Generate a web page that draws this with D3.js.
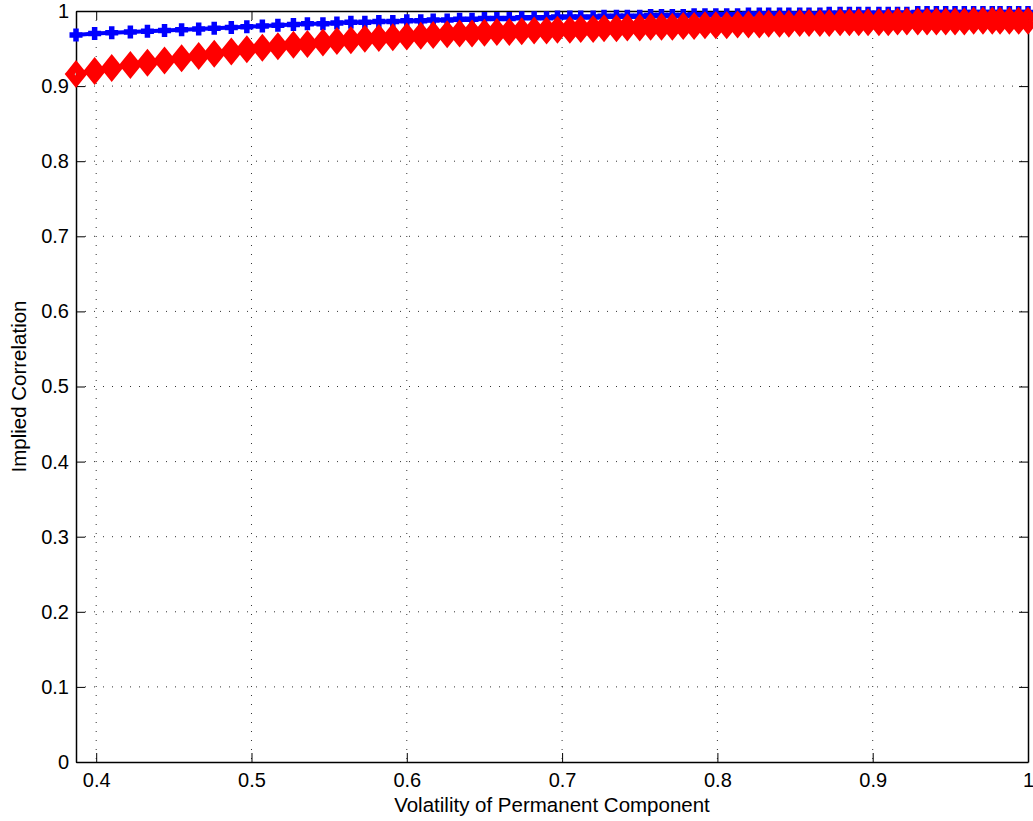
<!DOCTYPE html>
<html>
<head>
<meta charset="utf-8">
<script src="https://cdn.jsdelivr.net/npm/d3@7"></script>
<style>
  body { margin: 0; background: #fff; }
  text { font-family: "Liberation Sans", Arial, sans-serif; fill: #000; }
</style>
</head>
<body>
<div id="chart"></div>
<script>
const MARGIN = { LEFT: 76, RIGHT: 5, TOP: 11, BOTTOM: 59 };
const WIDTH = 1033 - MARGIN.LEFT - MARGIN.RIGHT;
const HEIGHT = 821 - MARGIN.TOP - MARGIN.BOTTOM;

// volatility of permanent component (x)
const volatility = [
  0.387, 0.399, 0.410, 0.422, 0.433, 0.444, 0.455, 0.466, 0.476, 0.487,
  0.497, 0.507, 0.517, 0.527, 0.536, 0.546, 0.555, 0.564, 0.573, 0.582,
  0.591, 0.600, 0.609, 0.617, 0.626, 0.634, 0.642, 0.650, 0.658, 0.666,
  0.674, 0.682, 0.690, 0.697, 0.705, 0.712, 0.720, 0.727, 0.735, 0.742,
  0.750, 0.757, 0.764, 0.771, 0.778, 0.785, 0.792, 0.799, 0.806, 0.813,
  0.820, 0.827, 0.833, 0.840, 0.846, 0.853, 0.859, 0.866, 0.872, 0.879,
  0.885, 0.891, 0.897, 0.904, 0.910, 0.916, 0.922, 0.929, 0.935, 0.941,
  0.947, 0.953, 0.959, 0.965, 0.971, 0.977, 0.982, 0.988, 0.994, 1.000
];

// blue series (plus markers)
const corrBlue = [
  0.968, 0.970, 0.971, 0.972, 0.973, 0.974, 0.975, 0.976, 0.977, 0.978,
  0.979, 0.980, 0.981, 0.982, 0.983, 0.983, 0.984, 0.985, 0.985, 0.986,
  0.986, 0.987, 0.987, 0.988, 0.988, 0.989, 0.989, 0.990, 0.990, 0.990,
  0.991, 0.991, 0.991, 0.992, 0.992, 0.992, 0.992, 0.993, 0.993, 0.993,
  0.993, 0.994, 0.994, 0.994, 0.994, 0.995, 0.995, 0.995, 0.995, 0.995,
  0.996, 0.996, 0.996, 0.996, 0.996, 0.996, 0.996, 0.996, 0.997, 0.997,
  0.997, 0.997, 0.997, 0.997, 0.997, 0.997, 0.997, 0.998, 0.998, 0.998,
  0.998, 0.998, 0.998, 0.998, 0.998, 0.998, 0.998, 0.998, 0.998, 0.998
];

// red series (diamond markers)
const corrRed = [
  0.916, 0.920, 0.924, 0.928, 0.931, 0.934, 0.937, 0.940, 0.943, 0.946,
  0.949, 0.951, 0.953, 0.955, 0.956, 0.958, 0.960, 0.961, 0.963, 0.964,
  0.965, 0.966, 0.967, 0.968, 0.969, 0.970, 0.970, 0.971, 0.972, 0.972,
  0.973, 0.974, 0.974, 0.975, 0.975, 0.976, 0.976, 0.977, 0.977, 0.978,
  0.978, 0.979, 0.979, 0.979, 0.980, 0.980, 0.981, 0.981, 0.981, 0.982,
  0.982, 0.982, 0.983, 0.983, 0.983, 0.984, 0.984, 0.984, 0.984, 0.985,
  0.985, 0.985, 0.985, 0.985, 0.985, 0.986, 0.986, 0.986, 0.986, 0.986,
  0.986, 0.986, 0.986, 0.987, 0.987, 0.987, 0.987, 0.987, 0.987, 0.987
];

const xTicks = [0.4, 0.5, 0.6, 0.7, 0.8, 0.9, 1];
const yTicks = [0, 0.1, 0.2, 0.3, 0.4, 0.5, 0.6, 0.7, 0.8, 0.9, 1];

const svg = d3
  .select("#chart")
  .append("svg")
  .attr("width", 1033)
  .attr("height", 821);

const g = svg
  .append("g")
  .attr("transform", `translate(${MARGIN.LEFT}, ${MARGIN.TOP})`);

const x = d3.scaleLinear().domain([volatility[0], 1]).range([0, WIDTH]);
const y = d3.scaleLinear().domain([0, 1]).range([HEIGHT, 0]);

const fmt = (d) => (d === 0 || d === 1 ? String(d) : d3.format(".1f")(d));

// dotted grid
g.append("g")
  .selectAll("line")
  .data(xTicks.filter((d) => d < 1))
  .enter()
  .append("line")
  .attr("x1", (d) => x(d))
  .attr("x2", (d) => x(d))
  .attr("y1", 0)
  .attr("y2", HEIGHT)
  .attr("stroke", "#333")
  .attr("stroke-width", 1)
  .attr("stroke-dasharray", "1,8");

g.append("g")
  .selectAll("line")
  .data(yTicks.filter((d) => d > 0 && d < 1))
  .enter()
  .append("line")
  .attr("x1", 0)
  .attr("x2", WIDTH)
  .attr("y1", (d) => y(d))
  .attr("y2", (d) => y(d))
  .attr("stroke", "#333")
  .attr("stroke-width", 1)
  .attr("stroke-dasharray", "1,8");

// axes (ticks pointing inward, box on)
const xAxisCall = d3.axisBottom(x).tickValues(xTicks).tickFormat(fmt)
  .tickSizeInner(-9).tickSizeOuter(0).tickPadding(11);
const xAxisGroup = g.append("g")
  .attr("transform", `translate(0, ${HEIGHT})`)
  .call(xAxisCall);

const yAxisCall = d3.axisLeft(y).tickValues(yTicks).tickFormat(fmt)
  .tickSizeInner(-9).tickSizeOuter(0).tickPadding(7);
const yAxisGroup = g.append("g").call(yAxisCall);

g.append("g")
  .call(d3.axisTop(x).tickValues(xTicks).tickFormat("").tickSizeInner(-9).tickSizeOuter(0));
g.append("g")
  .attr("transform", `translate(${WIDTH}, 0)`)
  .call(d3.axisRight(y).tickValues(yTicks).tickFormat("").tickSizeInner(-9).tickSizeOuter(0));

svg.selectAll(".domain").attr("stroke", "#000").attr("stroke-width", 1.5);
svg.selectAll(".tick line").attr("stroke", "#000");
xAxisGroup.selectAll("text").attr("font-size", "20px").attr("font-family", "Liberation Sans, Arial, sans-serif");
yAxisGroup.selectAll("text").attr("font-size", "20px").attr("font-family", "Liberation Sans, Arial, sans-serif");

// X label
g.append("text")
  .attr("x", WIDTH / 2)
  .attr("y", HEIGHT + 50)
  .attr("font-size", "20.5px")
  .attr("text-anchor", "middle")
  .text("Volatility of Permanent Component");

// Y label
g.append("text")
  .attr("x", -(HEIGHT / 2))
  .attr("y", -50)
  .attr("font-size", "20.5px")
  .attr("text-anchor", "middle")
  .attr("transform", "rotate(-90)")
  .text("Implied Correlation");

const blueData = volatility.map((v, i) => ({ x: v, y: corrBlue[i] }));
const redData = volatility.map((v, i) => ({ x: v, y: corrRed[i] }));

const line = d3.line().x((d) => x(d.x)).y((d) => y(d.y));

// blue series
g.append("path")
  .datum(blueData)
  .attr("d", line)
  .attr("fill", "none")
  .attr("stroke", "#0000ff")
  .attr("stroke-width", 4);

const plus = (d) => {
  const cx = x(d.x), cy = y(d.y), r = 6.5;
  return `M${cx - r},${cy}H${cx + r}M${cx},${cy - r}V${cy + r}`;
};

g.append("g")
  .selectAll("path")
  .data(blueData)
  .enter()
  .append("path")
  .attr("d", plus)
  .attr("fill", "none")
  .attr("stroke", "#0000ff")
  .attr("stroke-width", 5.5);

// red series
g.append("path")
  .datum(redData)
  .attr("d", line)
  .attr("fill", "none")
  .attr("stroke", "#ff0000")
  .attr("stroke-width", 4.5);

const diamond = (d) => {
  const cx = x(d.x), cy = y(d.y), a = 6.3, b = 7.8;
  return `M${cx - a},${cy}L${cx},${cy - b}L${cx + a},${cy}L${cx},${cy + b}Z`;
};

g.append("g")
  .selectAll("path")
  .data(redData)
  .enter()
  .append("path")
  .attr("d", diamond)
  .attr("fill", "none")
  .attr("stroke", "#ff0000")
  .attr("stroke-width", 7.8)
  .attr("stroke-linejoin", "miter");
</script>
</body>
</html>
